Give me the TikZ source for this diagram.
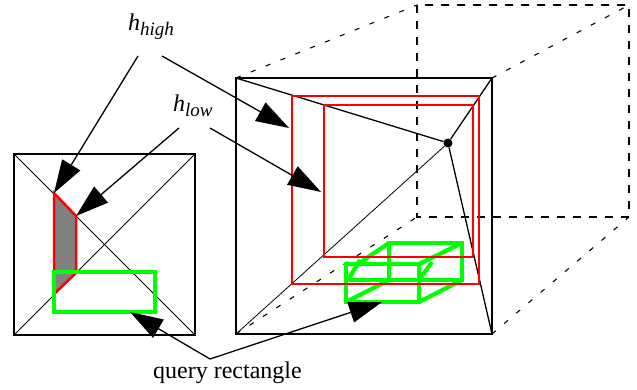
\documentclass[tikz,border=0pt]{standalone}
\usepackage{fontspec}
\setmainfont{Liberation Serif}
\usetikzlibrary{arrows.meta}
\definecolor{hred}{HTML}{FF0000}
\definecolor{qgreen}{HTML}{00FF00}
\definecolor{wedgegray}{HTML}{808080}
\newcommand{\hlabel}[1]{\fontsize{24}{24}\selectfont\itshape h\raisebox{-5pt}{\fontsize{19}{19}\selectfont #1}}

\begin{document}
\begin{tikzpicture}[
  x=1pt, y=-1pt,
  square/.style={draw=black, line width=2.2pt},
  diag/.style={draw=black, line width=0.8pt},
  spoke/.style={draw=black, line width=1.3pt},
  thindash/.style={draw=black, line width=1.1pt, dash pattern=on 5pt off 11pt},
  boxdash/.style={draw=black, line width=2.2pt, dash pattern=on 8pt off 8pt},
  hrect/.style={draw=hred, line width=2.5pt},
  qrect/.style={draw=qgreen, line width=4.2pt, line join=miter},
  arr/.style={-{Triangle[length=33pt,width=21pt]}, draw=black, line width=1.3pt},
  lab/.style={anchor=base west, inner sep=0pt},
]
\useasboundingbox (0,0) rectangle (637,390);

% corners of the two views
\coordinate (ltl) at (14,154);
\coordinate (ltr) at (195,154);
\coordinate (lbl) at (14,335);
\coordinate (lbr) at (195,335);
\coordinate (rtl) at (236,78);
\coordinate (rtr) at (492,78);
\coordinate (rbl) at (236,334);
\coordinate (rbr) at (492,334);
\coordinate (btl) at (417,5);
\coordinate (btr) at (629,5);
\coordinate (bbl) at (417,217);
\coordinate (bbr) at (629,217);
\node[circle, fill=black, inner sep=0pt, minimum size=9pt] (apex) at (448,143) {};

% labels
\node[lab] (hhigh) at (128,31) {\hlabel{high}};
\node[lab] (hlow) at (173,112) {\hlabel{low}};
\node[lab, font=\fontsize{24}{24}\selectfont] (query) at (153,378) {query rectangle};

% arrow ends
\coordinate (hhighl) at (138,56);
\coordinate (hhighr) at (162,56);
\coordinate (hlowl) at (179,128);
\coordinate (hlowr) at (210,128);
\coordinate (qapex) at (210,359);
\coordinate (wtop) at (54,193);
\coordinate (wmid) at (76,216);
\coordinate (wlow) at (76,273);
\coordinate (wbot) at (54,294);
\coordinate (hoeh) at (289,128);
\coordinate (hoel) at (321,192);
\coordinate (qleft) at (130,312);
\coordinate (qright) at (382,302);

% left view
\draw[square] (ltl) rectangle (lbr);
\draw[diag] (ltl) -- (lbr);
\draw[diag] (lbl) -- (ltr);
\draw[hrect, fill=wedgegray] (wtop) -- (wmid) -- (wlow) -- (wbot) -- cycle;
\draw[qrect, line width=3.6pt] (54,272) rectangle (155,312);

% right view
\draw[thindash] (rtl) -- (btl);
\draw[thindash] (rtr) -- (btr);
\draw[thindash] (rbl) -- (bbl);
\draw[thindash] (rbr) -- (bbr);
\draw[boxdash] (btl) rectangle (bbr);
\draw[square] (rtl) rectangle (rbr);
\draw[spoke] (rtl) -- (apex);
\draw[spoke] (rtr) -- (apex);
\draw[spoke] (rbr) -- (apex);
\draw[diag] (rbl) -- (apex);

% query box in perspective
\draw[qrect] (346,264) rectangle (419,302);
\draw[qrect] (389,243) rectangle (462,280);
\draw[qrect] (346,280) -- (389,280);
\draw[qrect] (346,302) -- (389,280);
\draw[qrect] (419,302) -- (462,280);
\draw[qrect] (358,264) -- (389,243);
\draw[qrect] (419,264) -- (462,243);
\draw[qrect] (348,280) -- (360,260);
\draw[qrect] (419,280) -- (432,262);

\draw[hrect] (292,96) rectangle (479,284);
\draw[hrect] (324,105) rectangle (473,257);

% pointers
\draw[arr] (hhighl) -- (wtop);
\draw[arr] (hhighr) -- (hoeh);
\draw[arr] (hlowl) -- (wmid);
\draw[arr] (hlowr) -- (hoel);
\draw[arr] (qapex) -- (qleft);
\draw[arr] (qapex) -- (qright);

\end{tikzpicture}
\end{document}
